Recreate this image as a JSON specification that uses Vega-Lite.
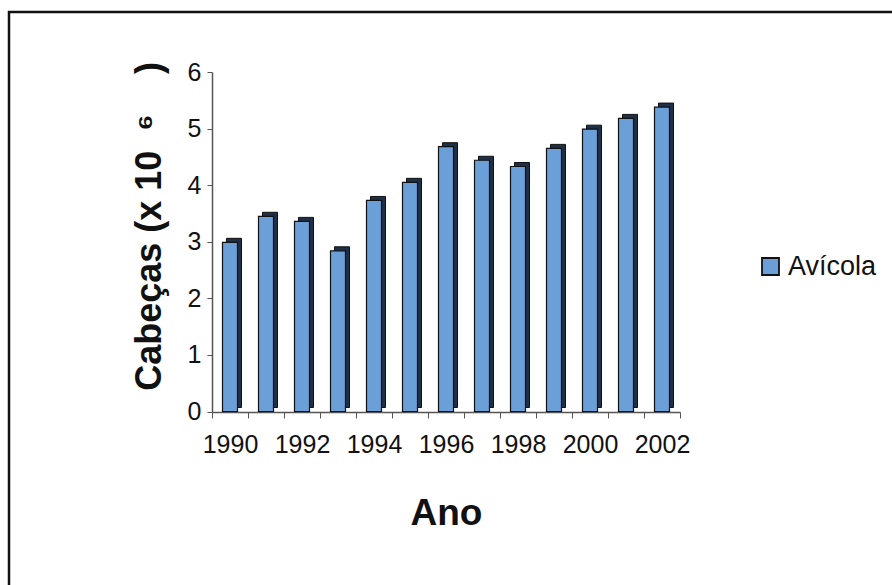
{
  "$schema": "https://vega.github.io/schema/vega-lite/v6.json",
  "width": 900,
  "height": 600,
  "padding": {"left": 9, "top": 12, "right": 0, "bottom": 0},
  "background": "white",
  "config": {
    "view": {"stroke": "#111", "strokeWidth": 2.5},
    "font": "Liberation Sans"
  },
  "data": {
    "values": [
      {"ano": 1990, "cabecas": 2.99, "serie": "Avícola"},
      {"ano": 1991, "cabecas": 3.45, "serie": "Avícola"},
      {"ano": 1992, "cabecas": 3.36, "serie": "Avícola"},
      {"ano": 1993, "cabecas": 2.84, "serie": "Avícola"},
      {"ano": 1994, "cabecas": 3.73, "serie": "Avícola"},
      {"ano": 1995, "cabecas": 4.05, "serie": "Avícola"},
      {"ano": 1996, "cabecas": 4.68, "serie": "Avícola"},
      {"ano": 1997, "cabecas": 4.44, "serie": "Avícola"},
      {"ano": 1998, "cabecas": 4.33, "serie": "Avícola"},
      {"ano": 1999, "cabecas": 4.65, "serie": "Avícola"},
      {"ano": 2000, "cabecas": 4.99, "serie": "Avícola"},
      {"ano": 2001, "cabecas": 5.18, "serie": "Avícola"},
      {"ano": 2002, "cabecas": 5.38, "serie": "Avícola"}
    ]
  },
  "encoding": {
    "x": {
      "field": "ano",
      "type": "ordinal",
      "scale": {"range": [203, 671], "paddingInner": 0, "paddingOuter": 0},
      "axis": {
        "offset": -200,
        "title": "Ano",
        "titleFontSize": 37,
        "titleFontWeight": "bold",
        "titleColor": "#111",
        "titlePadding": 38,
        "labelFontSize": 25,
        "labelColor": "#111",
        "labelAngle": 0,
        "labelOverlap": false,
        "labelPadding": 14,
        "labelExpr": "datum.value % 2 == 0 ? datum.label : ''",
        "tickBand": "extent",
        "tickSize": 6,
        "tickColor": "#555",
        "domainColor": "#555",
        "domainWidth": 1.5
      }
    },
    "y": {
      "field": "cabecas",
      "type": "quantitative",
      "scale": {"domain": [0, 6], "range": [399.5, 60], "nice": false},
      "axis": {
        "offset": -203,
        "values": [0, 1, 2, 3, 4, 5, 6],
        "grid": false,
        "title": "Cabeças (x 10\u00a0\u00a0⁶\u00a0\u00a0\u00a0\u00a0)",
        "titleFontSize": 36,
        "titleFontWeight": "bold",
        "titleColor": "#111",
        "titlePadding": 19,
        "titleY": 214,
        "labelFontSize": 25,
        "labelColor": "#111",
        "labelPadding": 6,
        "tickSize": 5,
        "tickColor": "#555",
        "domainColor": "#555",
        "domainWidth": 1.5
      }
    }
  },
  "layer": [
    {
      "mark": {"type": "bar", "size": 15, "xOffset": 4, "yOffset": -4, "color": "#1e3047", "stroke": "#111", "strokeWidth": 1}
    },
    {
      "mark": {"type": "bar", "size": 15, "stroke": "#111", "strokeWidth": 1.2},
      "encoding": {
        "color": {
          "field": "serie",
          "type": "nominal",
          "scale": {"range": ["#6a9fd8"]},
          "legend": {
            "title": null,
            "orient": "none",
            "legendX": 748,
            "legendY": 241,
            "symbolType": "square",
            "symbolSize": 289,
            "symbolStrokeColor": "#111",
            "symbolStrokeWidth": 1.8,
            "labelFontSize": 27,
            "labelColor": "#111",
            "labelOffset": 4
          }
        }
      }
    }
  ]
}
